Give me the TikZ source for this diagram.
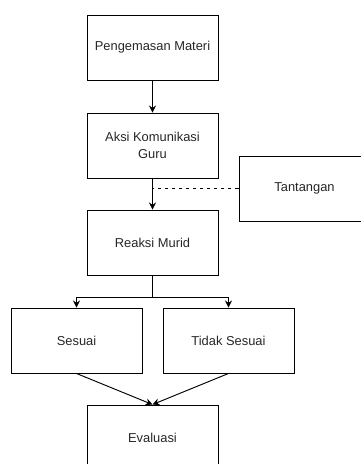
\documentclass[tikz,border=0pt]{standalone}
\usepackage{fontspec}
\setmainfont{Liberation Sans}
\usepackage{tikz}
\usetikzlibrary{arrows,arrows.meta,shapes,calc}
\tikzstyle{proc}=[rectangle, draw, minimum width=3.93cm, minimum height=1.95cm,% plain white box
align=center, font=\fontsize{11}{14}\selectfont, text=black!85, line width=0.8pt]
\tikzstyle{flow}=[->, >={Stealth[length=6pt,width=6pt,inset=2pt]}, line width=0.8pt]

\begin{document}
\begin{tikzpicture}[x=0.03cm,y=-0.03cm]
\useasboundingbox (0,0) rectangle (361,464);
\clip (0,0) rectangle (361,464);
\node[proc] (peng) at (152.5,47.5) {Pengemasan Materi};
\node[proc] (aksi) at (152.5,145.5) {Aksi Komunikasi\\Guru};
\node[proc] (tant) at (304.5,188.5) {Tantangan};
\node[proc] (reaksi) at (152.5,242.5) {Reaksi Murid};
\node[proc] (sesuai) at (76.5,340.5) {Sesuai};
\node[proc] (tidak) at (228.5,340.5) {Tidak Sesuai};
\node[proc] (eval) at (152.5,437.5) {Evaluasi};
\draw[flow] (peng) -- (aksi);
\draw[flow] (aksi) -- (reaksi);
\draw[dashed, line width=0.8pt] (tant.west) -- (tant.west -| aksi.south);
\draw[flow] (reaksi.south) -- ++(0,21.7) -| (sesuai.north);
\draw[flow] (reaksi.south) -- ++(0,21.7) -| (tidak.north);
\draw[flow] (sesuai.south) -- (eval.north);
\draw[flow] (tidak.south) -- (eval.north);
\end{tikzpicture}
\end{document}
